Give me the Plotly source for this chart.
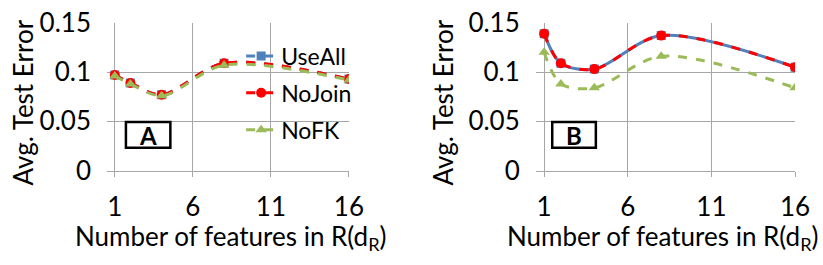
import plotly.graph_objects as go

x_vals = [1, 2, 4, 8, 16]
a_useall = [0.097, 0.089, 0.077, 0.109, 0.093]
a_nojoin = [0.097, 0.089, 0.077, 0.109, 0.093]
a_nofk = [0.096, 0.088, 0.076, 0.107, 0.092]
b_useall = [0.139, 0.109, 0.103, 0.137, 0.105]
b_nojoin = [0.139, 0.109, 0.103, 0.137, 0.105]
b_nofk = [0.120, 0.088, 0.084, 0.116, 0.084]
x_ticks = [1, 6, 11, 16]
y_ticks = [0, 0.05, 0.1, 0.15]
y_tick_text = ["0", "0.05", "0.1", "0.15"]
panel_labels = ["A", "B"]
x_title = "Number of features in R(d<sub>R</sub>)"
y_title = "Avg. Test Error"

FONT = "Lato"
BLUE = "#4F81BD"
RED = "#FF0000"
GREEN = "#9BBB59"
FS = 26

fig = go.Figure()

def add(xa, ya, ys, name, color, symbol, dash, show, size):
    fig.add_trace(go.Scatter(
        x=x_vals, y=ys, name=name, mode="lines+markers",
        line=dict(color=color, width=3, dash=dash, shape="spline", smoothing=0.9),
        marker=dict(color=color, symbol=symbol, size=size),
        xaxis=xa, yaxis=ya, showlegend=show, legendgroup=name))

add("x", "y", a_useall, "UseAll", BLUE, "square", "dash", True, 9)
add("x", "y", a_nojoin, "NoJoin", RED, "circle", "dash", True, 10)
add("x", "y", a_nofk, "NoFK", GREEN, "triangle-up", "dash", True, 10)
add("x2", "y2", b_useall, "UseAll", BLUE, "square", "solid", False, 9)
add("x2", "y2", b_nojoin, "NoJoin", RED, "circle", "dash", False, 10)
add("x2", "y2", b_nofk, "NoFK", GREEN, "triangle-up", "dash", False, 10)

ydom = [0.356, 0.914]
common_x = dict(range=[0.5, 16], tickvals=x_ticks, showgrid=True, gridcolor="#A6A6A6",
                gridwidth=1, zeroline=False, showline=True, linecolor="#A6A6A6",
                ticks="outside", ticklen=5, tickcolor="#A6A6A6", automargin=False,
                ticklabelstandoff=8,
                tickfont=dict(size=FS, color="black", family=FONT))
common_y = dict(range=[0, 0.15], tickvals=y_ticks, ticktext=y_tick_text, showgrid=True,
                gridcolor="#A6A6A6", gridwidth=1, zeroline=False, showline=False,
                ticks="", ticklabelstandoff=15, automargin=False,
                tickfont=dict(size=FS, color="black", family=FONT))

fig.update_layout(
    width=823, height=265,
    margin=dict(l=0, r=0, t=0, b=0, autoexpand=False),
    paper_bgcolor="white", plot_bgcolor="white",
    xaxis=dict(domain=[0.130, 0.424], anchor="y", **common_x),
    yaxis=dict(domain=ydom, anchor="x", **common_y),
    xaxis2=dict(domain=[0.651, 0.966], anchor="y2", **common_x),
    yaxis2=dict(domain=ydom, anchor="x2", **common_y),
    legend=dict(x=0.293, y=0.87, xanchor="left", yanchor="top", bgcolor="rgba(0,0,0,0)",
                font=dict(size=23, color="black", family=FONT), traceorder="grouped",
                tracegroupgap=4, itemwidth=30),
    showlegend=True,
)

# axis titles
for xp in [22 / 823, 442 / 823]:
    fig.add_annotation(xref="paper", yref="paper", x=xp, y=1 - 102.5 / 265,
                       xanchor="center", yanchor="middle", textangle=-90,
                       text=y_title, showarrow=False,
                       font=dict(size=FS, color="black", family=FONT))
for xp in [230 / 823, 662 / 823]:
    fig.add_annotation(xref="paper", yref="paper", x=xp, y=1 - 237 / 265,
                       xanchor="center", yanchor="middle",
                       text=x_title, showarrow=False,
                       font=dict(size=FS, color="black", family=FONT))

# panel label boxes
box_pos = [(0.153, 0.207), (0.671, 0.724)]
for lab, (x0, x1) in zip(panel_labels, box_pos):
    fig.add_shape(type="rect", xref="paper", yref="paper", x0=x0, x1=x1,
                  y0=(265 - 147.7) / 265, y1=(265 - 122) / 265,
                  line=dict(color="black", width=2.5), fillcolor="white")
    fig.add_annotation(xref="paper", yref="paper", x=(x0 + x1) / 2, y=(265 - 135) / 265,
                       xanchor="center", yanchor="middle",
                       text="<b>" + lab + "</b>", showarrow=False,
                       font=dict(size=24, color="black", family=FONT))

fig.write_html("out.html", config={"displayModeBar": False},
               post_script="document.body.style.margin='0px';")
